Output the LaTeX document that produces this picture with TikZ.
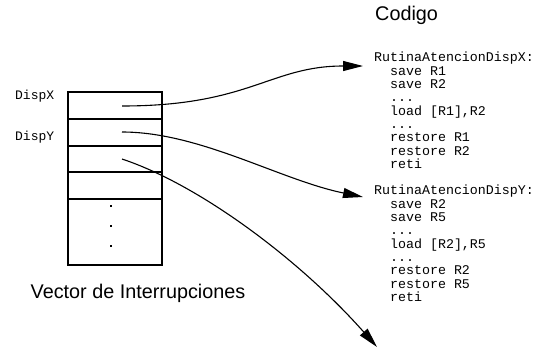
\documentclass[tikz,border=0pt]{standalone}
\usepackage{fontspec}
\setmainfont{Liberation Sans}
\setmonofont{Liberation Mono}
\usetikzlibrary{arrows.meta}

\tikzset{
  cellline/.style={line width=1.1pt},
  link/.style={line width=1.1pt, -{Triangle[length=20pt,width=10pt]}},
  code/.style={font=\ttfamily\fontsize{13.3}{13.35}\selectfont, align=left, inner sep=0pt, anchor=north west},
  tag/.style={font=\ttfamily\fontsize{13}{13}\selectfont, inner sep=0pt, anchor=base west},
  title/.style={font=\fontsize{19.8}{19.8}\selectfont, inner sep=0pt, anchor=base west},
  dot/.style={fill=black, inner sep=0pt, minimum size=2.2pt}
}

\begin{document}
\begin{tikzpicture}[x=1pt,y=-1pt]
  \useasboundingbox (0,0) rectangle (538,351);

  % interrupt vector table
  \draw[cellline] (68,92) rectangle (162,265);
  \foreach \yy in {119,146,172,199}
    \draw[cellline] (68,\yy) -- (162,\yy);
  \node[dot] (d1) at (111,206) {};
  \node[dot] (d2) at (111,226) {};
  \node[dot] (d3) at (111,246) {};

  \node[tag] (tx) at (15,99.5) {DispX};
  \node[tag] (ty) at (15,140) {DispY};
  \node[title] (vec) at (30.5,298) {Vector de Interrupciones};
  \node[title] (cod) at (375,20) {Codigo};

  % handler listings
  \node[code] (rx) at (374,52) {RutinaAtencionDispX:\\
    \phantom{xx}save R1\\
    \phantom{xx}save R2\\
    \phantom{xx}...\\
    \phantom{xx}load [R1],R2\\
    \phantom{xx}...\\
    \phantom{xx}restore R1\\
    \phantom{xx}restore R2\\
    \phantom{xx}reti};
  \node[code] (ry) at (374,185) {RutinaAtencionDispY:\\
    \phantom{xx}save R2\\
    \phantom{xx}save R5\\
    \phantom{xx}...\\
    \phantom{xx}load [R2],R5\\
    \phantom{xx}...\\
    \phantom{xx}restore R2\\
    \phantom{xx}restore R5\\
    \phantom{xx}reti};

  % pointer sources and targets
  \coordinate (sx) at (122,106);
  \coordinate (sy) at (122,132);
  \coordinate (sz) at (122,159);
  \coordinate (ex) at (363,66);
  \coordinate (ey) at (363,197);
  \coordinate (ez) at (377,347);

  \draw[link] (sx) .. controls (250,106) and (270,66) .. (ex);
  \draw[link] (sy) .. controls (200,132) and (280,180) .. (ey);
  \draw[link] (sz) .. controls (200,185) and (300,260) .. (ez);
\end{tikzpicture}
\end{document}
